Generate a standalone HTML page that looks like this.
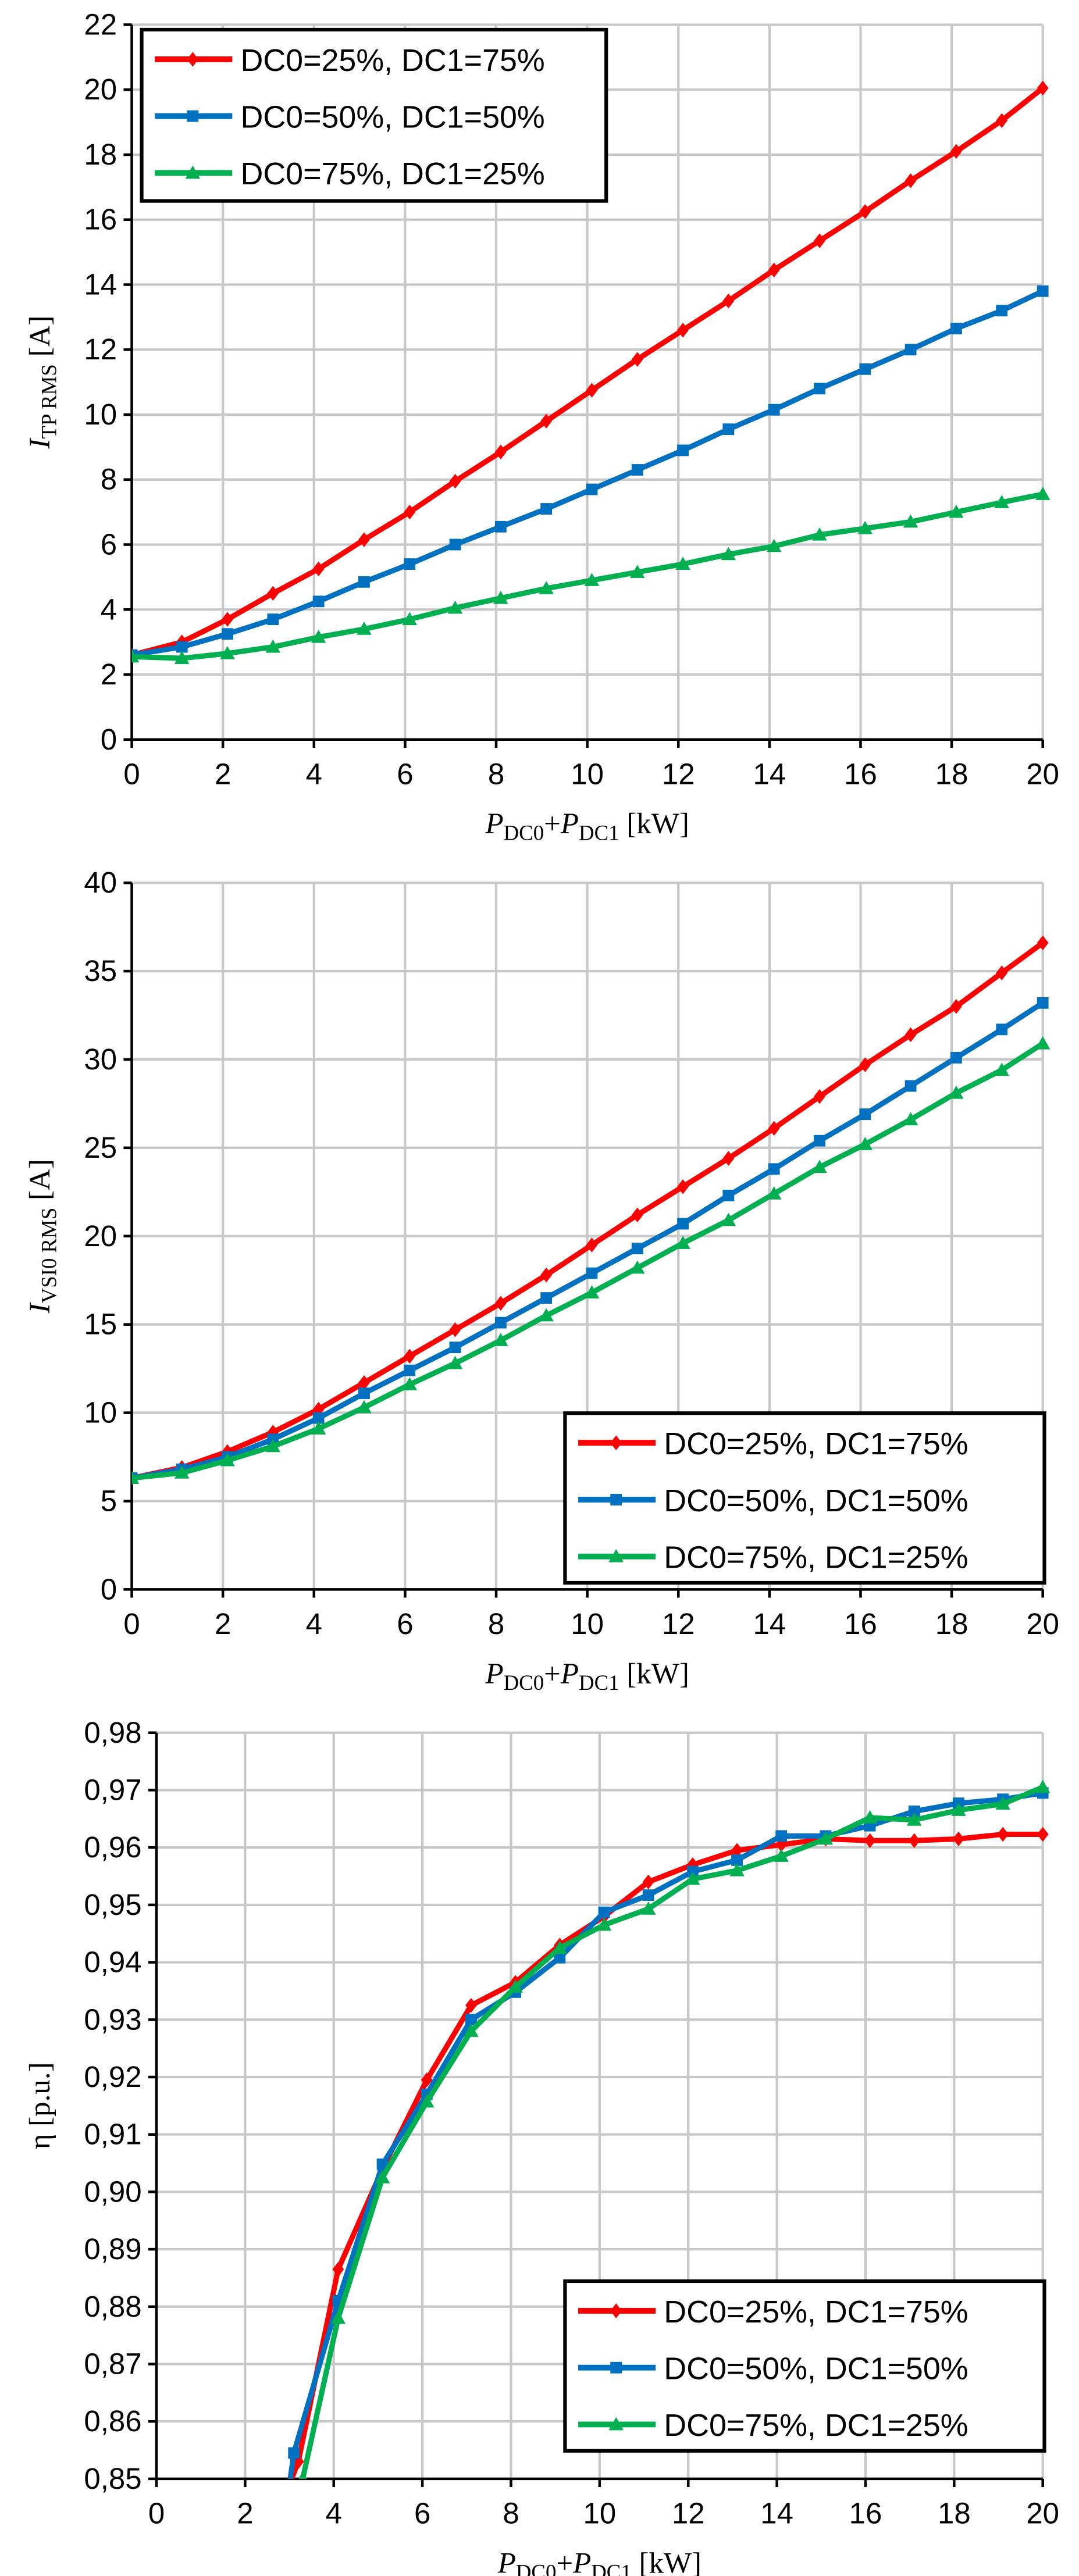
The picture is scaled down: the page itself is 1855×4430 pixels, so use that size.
<!DOCTYPE html>
<html><head><meta charset="utf-8"><style>
html,body{margin:0;padding:0;background:#fff;}
svg{display:block;font-family:"Liberation Sans",sans-serif;}
</style></head><body>
<svg id="root" width="1855" height="4430" viewBox="0 0 655 1564" preserveAspectRatio="none" xmlns="http://www.w3.org/2000/svg"></svg>
<script>
const xs = [0,1.1,2.1,3.1,4.1,5.1,6.1,7.1,8.1,9.1,10.1,11.1,12.1,13.1,14.1,15.1,16.1,17.1,18.1,19.1,20];
const c1Red = [2.6,3.0,3.7,4.5,5.25,6.15,7.0,7.95,8.85,9.8,10.75,11.7,12.6,13.5,14.45,15.35,16.25,17.2,18.1,19.05,20.05];
const c1Blue = [2.6,2.85,3.25,3.7,4.25,4.85,5.4,6.0,6.55,7.1,7.7,8.3,8.9,9.55,10.15,10.8,11.4,12.0,12.65,13.2,13.8];
const c1Green = [2.55,2.5,2.65,2.85,3.15,3.4,3.7,4.05,4.35,4.65,4.9,5.15,5.4,5.7,5.95,6.3,6.5,6.7,7.0,7.3,7.55];
const c2Red = [6.3,6.9,7.8,8.9,10.2,11.7,13.2,14.7,16.2,17.8,19.5,21.2,22.8,24.4,26.1,27.9,29.7,31.4,33.0,34.9,36.6];
const c2Blue = [6.3,6.8,7.5,8.5,9.7,11.1,12.4,13.7,15.1,16.5,17.9,19.3,20.7,22.3,23.8,25.4,26.9,28.5,30.1,31.7,33.2];
const c2Green = [6.3,6.6,7.3,8.1,9.1,10.3,11.6,12.8,14.1,15.5,16.8,18.2,19.6,20.9,22.4,23.9,25.2,26.6,28.1,29.4,30.9];
const c3RedX = [3.2,4.1,5.1,6.1,7.1,8.1,9.1,10.1,11.1,12.1,13.1,14.1,15.1,16.1,17.1,18.1,19.1,20];
const c3Red = [0.853,0.8865,0.904,0.9195,0.9325,0.9365,0.943,0.948,0.954,0.957,0.9595,0.9605,0.9615,0.9612,0.9612,0.9615,0.9623,0.9623];
const c3BlueX = [3.1,4.1,5.1,6.1,7.1,8.1,9.1,10.1,11.1,12.1,13.1,14.1,15.1,16.1,17.1,18.1,19.1,20];
const c3Blue = [0.8545,0.881,0.9048,0.917,0.930,0.9348,0.9408,0.9487,0.9517,0.9558,0.9578,0.962,0.962,0.9638,0.9663,0.9677,0.9684,0.9695];
const c3GreenX = [3.3,4.1,5.1,6.1,7.1,8.1,9.1,10.1,11.1,12.1,13.1,14.1,15.1,16.1,17.1,18.1,19.1,20];
const c3Green = [0.85,0.878,0.9025,0.9157,0.928,0.9357,0.9425,0.9465,0.9493,0.9545,0.956,0.9585,0.9615,0.9652,0.9648,0.9665,0.9676,0.9705];
const xTicks = [0,2,4,6,8,10,12,14,16,18,20];
const c1Ticks = [0,2,4,6,8,10,12,14,16,18,20,22];
const c2Ticks = [0,5,10,15,20,25,30,35,40];
const c3Ticks = [0.85,0.86,0.87,0.88,0.89,0.90,0.91,0.92,0.93,0.94,0.95,0.96,0.97,0.98];
const legendLabels = ["DC0=25%, DC1=75%","DC0=50%, DC1=50%","DC0=75%, DC1=25%"];

const NS="http://www.w3.org/2000/svg";
const root=document.getElementById('root');
function mk(tag,attrs,parent){const e=document.createElementNS(NS,tag);for(const k in attrs)e.setAttribute(k,attrs[k]);(parent||root).appendChild(e);return e;}
const COLORS=['#ff0000','#0070c0','#00b050'];

function marker(g,type,x,y,color){
  let m;
  if(type===0){m=mk('polygon',{points:`${x},${y-4.5} ${x+3.5},${y} ${x},${y+4.5} ${x-3.5},${y}`,fill:color},g);}
  else if(type===1){m=mk('rect',{x:x-3.5,y:y-3.5,width:7,height:7,fill:color},g);}
  else {m=mk('polygon',{points:`${x},${y-4.5} ${x+4.5},${y+3.5} ${x-4.5},${y+3.5}`,fill:color},g);}
  
  
}

function chart(id,cfg){
  const g=mk('g',{});
  
  
  const {x0,x1,y0,y1,ymin,ymax}=cfg;
  const sx=v=>x0+(v-0)/(20-0)*(x1-x0);
  const sy=v=>y0-(v-ymin)/(ymax-ymin)*(y0-y1);
  const grid=mk('g',{stroke:'#c8c8c8','stroke-width':1.5},g);
  
  
  xTicks.forEach(t=>{if(t>0)mk('line',{x1:sx(t),x2:sx(t),y1:y1,y2:y0},grid);});
  cfg.ticks.forEach(t=>{if(t>ymin)mk('line',{x1:x0,x2:x1,y1:sy(t),y2:sy(t)},grid);});
  const ax=mk('g',{stroke:'#000','stroke-width':1.6},g);
  
  
  mk('line',{x1:x0,x2:x0,y1:y1,y2:y0},ax);
  mk('line',{x1:x0,x2:x1,y1:y0,y2:y0},ax);
  xTicks.forEach(t=>mk('line',{x1:sx(t),x2:sx(t),y1:y0,y2:y0+5},ax));
  cfg.ticks.forEach(t=>mk('line',{x1:x0-5,x2:x0,y1:sy(t),y2:sy(t)},ax));
  xTicks.forEach(t=>{const e=mk('text',{x:sx(t),y:y0+27,'text-anchor':'middle','font-size':18},g);e.textContent=t;
    });
  cfg.ticks.forEach(t=>{const e=mk('text',{x:x0-9,y:sy(t)+6,'text-anchor':'end','font-size':18},g);e.textContent=cfg.fmt(t);
    });
  const xt=mk('text',{x:(x0+x1)/2,y:y0+57,'text-anchor':'middle','font-size':18,'font-family':'Liberation Serif, serif'},g);
  
  xt.innerHTML='<tspan font-style="italic">P</tspan><tspan font-size="13" dy="4">DC0</tspan><tspan dy="-4">+</tspan><tspan font-style="italic">P</tspan><tspan font-size="13" dy="4">DC1</tspan><tspan dy="-4"> [kW]</tspan>';
  const yt=mk('text',{x:0,y:0,'text-anchor':'middle','font-size':18,'font-family':'Liberation Serif, serif',transform:`translate(${cfg.ytx},${(y0+y1)/2}) rotate(-90)`},g);
  
  yt.innerHTML=cfg.ytitle;
  const cp=mk('clipPath',{id:id+'-clip'},g);mk('rect',{x:x0,y:y1-10,width:x1-x0+10,height:y0-y1+10},cp);
  cfg.series.forEach((s,i)=>{
    const sg=mk('g',{'clip-path':`url(#${id}-clip)`},g);
    
    
    const pts=s.x.map((xv,j)=>`${sx(xv)},${sy(s.y[j])}`);
    if(s.start)pts.unshift(`${sx(s.start[0])},${sy(s.start[1])}`);
    mk('polyline',{points:pts.join(' '),fill:'none',stroke:COLORS[i],'stroke-width':3.2,'stroke-linejoin':'round'},sg);
    s.x.forEach((xv,j)=>marker(sg,i,sx(xv),sy(s.y[j]),COLORS[i]));
  });
  const L=cfg.legend;
  const lg=mk('g',{},g);
  
  mk('rect',{x:L.x,y:L.y,width:L.w,height:L.h,fill:'#fff',stroke:'#000','stroke-width':2.2},lg);
  legendLabels.forEach((lab,i)=>{
    const ey=L.y+18+i*34.5;
    const eg=mk('g',{},lg);
    
    mk('line',{x1:L.x+8,x2:L.x+55,y1:ey,y2:ey,stroke:COLORS[i],'stroke-width':3.5},eg);
    marker(eg,i,L.x+31,ey,COLORS[i]);
    const t=mk('text',{x:L.x+60,y:ey+7,'font-size':19},eg);t.textContent=lab;
  });
}

chart('chart-itp',{x0:80,x1:633,y0:449,y1:15,ymin:0,ymax:22,ticks:c1Ticks,fmt:t=>t,ytx:30,
  ytitle:'<tspan font-style="italic">I</tspan><tspan font-size="13" dy="4">TP RMS</tspan><tspan dy="-4"> [A]</tspan>',
  series:[{x:xs,y:c1Red},{x:xs,y:c1Blue},{x:xs,y:c1Green}],
  legend:{x:86,y:18,w:282,h:104}});
chart('chart-ivsi',{x0:80,x1:633,y0:965,y1:536,ymin:0,ymax:40,ticks:c2Ticks,fmt:t=>t,ytx:30,
  ytitle:'<tspan font-style="italic">I</tspan><tspan font-size="13" dy="4">VSI0 RMS</tspan><tspan dy="-4"> [A]</tspan>',
  series:[{x:xs,y:c2Red},{x:xs,y:c2Blue},{x:xs,y:c2Green}],
  legend:{x:343,y:858,w:291,h:103}});
chart('chart-eff',{x0:95,x1:633,y0:1505,y1:1052,ymin:0.85,ymax:0.98,ticks:c3Ticks,fmt:t=>t.toFixed(2).replace('.',','),ytx:30,
  ytitle:'η [p.u.]',
  series:[{x:c3RedX,y:c3Red,start:[3.0,0.849]},{x:c3BlueX,y:c3Blue,start:[3.0,0.849]},{x:c3GreenX,y:c3Green}],
  legend:{x:343,y:1385,w:291,h:103}});
</script>
</body></html>
